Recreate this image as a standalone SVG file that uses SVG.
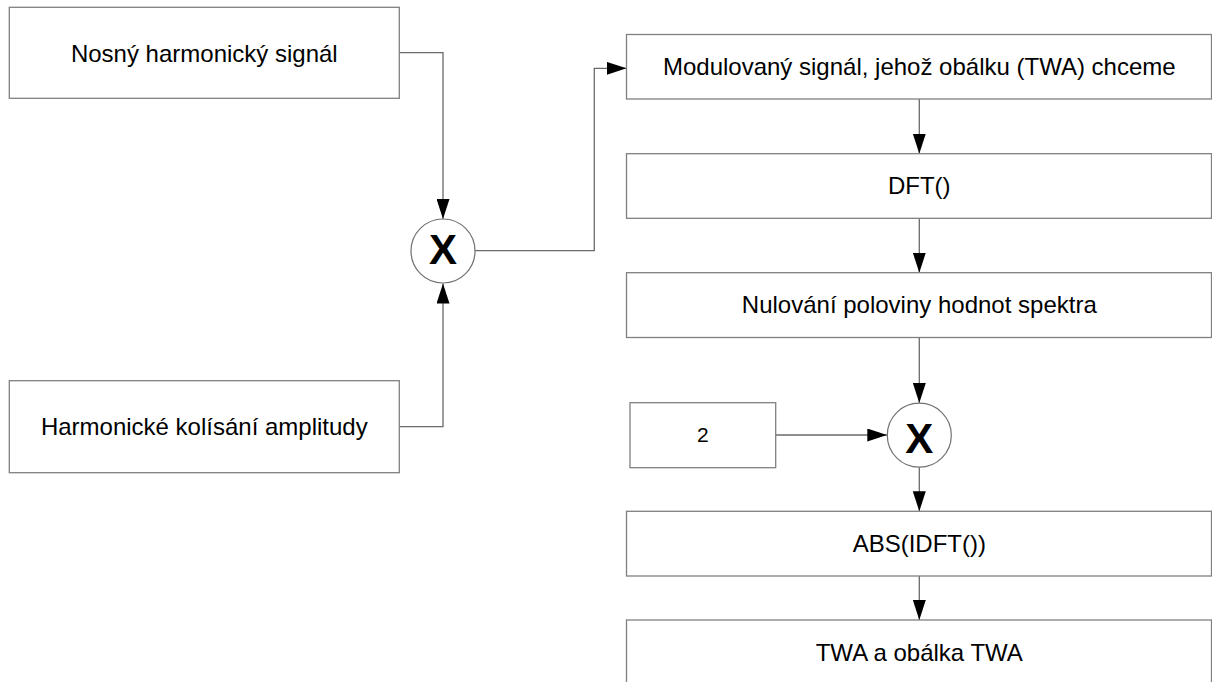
<svg xmlns="http://www.w3.org/2000/svg" width="1212" height="682" viewBox="0 0 1212 682">
<style>
.box{fill:#fff;stroke:#808080;stroke-width:1.3}
.circ{fill:#fff;stroke:#707070;stroke-width:1.2}
.lbl{font-family:"Liberation Sans",Arial,sans-serif;font-size:24px;fill:#000;text-anchor:middle}
.xl{font-family:"Liberation Sans",Arial,sans-serif;font-size:42px;font-weight:bold;fill:#000;text-anchor:middle}
.con{fill:none;stroke:#6a6a6a;stroke-width:1.3}
</style>
<defs>
<marker id="ah" markerWidth="20" markerHeight="13" refX="20" refY="6.5" orient="auto" markerUnits="userSpaceOnUse">
<path d="M0,0 L20,6.5 L0,13 Z" fill="#000"/>
</marker>
</defs>
<rect width="1212" height="682" fill="#fff"/>
<g id="connectors">
<path class="con" d="M399.3,52.7 H443 V219" marker-end="url(#ah)"/>
<path class="con" d="M399.3,426.7 H443 V283.5" marker-end="url(#ah)"/>
<path class="con" d="M475,250.7 H594.3 V68.3 H626.5" marker-end="url(#ah)"/>
<path class="con" d="M919.3,99 V153.7" marker-end="url(#ah)"/>
<path class="con" d="M919.3,218.3 V272.7" marker-end="url(#ah)"/>
<path class="con" d="M919.3,337.5 V403" marker-end="url(#ah)"/>
<path class="con" d="M775.7,435 H887.3" marker-end="url(#ah)"/>
<path class="con" d="M919.3,467.3 V511.3" marker-end="url(#ah)"/>
<path class="con" d="M919.3,576 V620" marker-end="url(#ah)"/>
</g>
<g id="nosny">
<rect class="box" x="9.3" y="7.3" width="390" height="91"/>
<text class="lbl" x="204.3" y="61.5">Nosný harmonický signál</text>
</g>
<g id="harmonicke">
<rect class="box" x="9.3" y="380.7" width="390" height="92"/>
<text class="lbl" x="204.3" y="435.3">Harmonické kolísání amplitudy</text>
</g>
<g id="mult1">
<circle class="circ" cx="443" cy="251" r="32"/>
<text class="xl" x="443" y="264">X</text>
</g>
<g id="modulovany">
<rect class="box" x="626.5" y="34.5" width="585" height="64.5"/>
<text class="lbl" x="919.3" y="75">Modulovaný signál, jehož obálku (TWA) chceme</text>
</g>
<g id="dft">
<rect class="box" x="626.5" y="153.7" width="585" height="64.6"/>
<text class="lbl" x="919.3" y="194">DFT()</text>
</g>
<g id="nulovani">
<rect class="box" x="626.5" y="272.7" width="585" height="64.8"/>
<text class="lbl" x="919.3" y="313">Nulování poloviny hodnot spektra</text>
</g>
<g id="konst2">
<rect class="box" x="630" y="402.7" width="145.7" height="65"/>
<text class="lbl" x="702.8" y="442.3" style="font-size:21px">2</text>
</g>
<g id="mult2">
<circle class="circ" cx="919.3" cy="435.2" r="32"/>
<text class="xl" x="919.3" y="452.7">X</text>
</g>
<g id="abs">
<rect class="box" x="626.5" y="511.3" width="585" height="64.7"/>
<text class="lbl" x="919.3" y="552">ABS(IDFT())</text>
</g>
<g id="twa">
<rect class="box" x="626.5" y="620" width="585" height="66"/>
<text class="lbl" x="919.3" y="660.5">TWA a obálka TWA</text>
</g>
</svg>
